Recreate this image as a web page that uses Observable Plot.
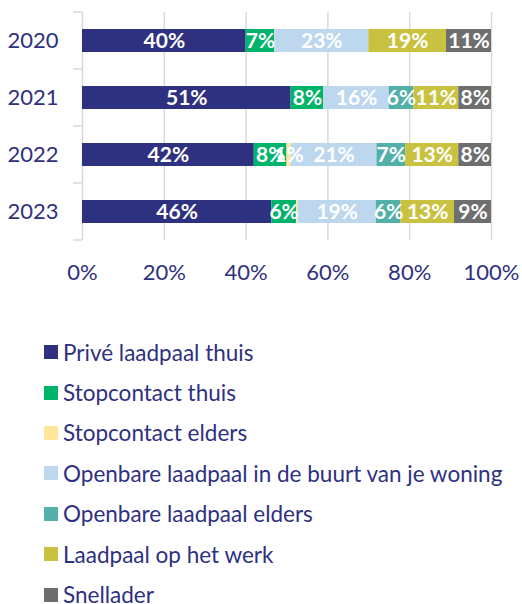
<!DOCTYPE html>
<html>
<head>
<meta charset="utf-8">
<script src="https://cdn.jsdelivr.net/npm/d3@7"></script>
<script src="https://cdn.jsdelivr.net/npm/@observablehq/plot@0.6"></script>
<style>
  html, body { margin: 0; padding: 0; background: #fff; }
  #chart svg { display: block; }
  .legend { margin: 32px 0 0 44px; font-family: Lato, "Open Sans", sans-serif; font-size: 22.5px; color: #2E3080; }
  .legend .row { height: 40.4px; display: flex; align-items: center; }
  .legend .sw { width: 14px; height: 14px; margin-right: 5px; flex: none; }
</style>
</head>
<body>
<div id="chart"></div>
<div class="legend" id="legend"></div>
<script>
const years = ["2020", "2021", "2022", "2023"];
const series = [
  "Privé laadpaal thuis",
  "Stopcontact thuis",
  "Stopcontact elders",
  "Openbare laadpaal in de buurt van je woning",
  "Openbare laadpaal elders",
  "Laadpaal op het werk",
  "Snellader"
];
const colors = ["#2E3080", "#00B36B", "#FFE699", "#BDD7EE", "#52B0A9", "#C9C241", "#6E6E6E"];
const priveThuis      = [40, 51, 42, 46];
const stopThuis       = [7, 8, 8, 6];
const stopElders      = [0, 0, 1, 0.4];
const openbaarBuurt   = [23, 16, 21, 19];
const openbaarElders  = [0, 6, 7, 6];
const werk            = [19, 11, 13, 13];
const snellader       = [11, 8, 8, 9];
const xTicks = [0, 0.2, 0.4, 0.6, 0.8, 1];

const seriesValues = [priveThuis, stopThuis, stopElders, openbaarBuurt, openbaarElders, werk, snellader];
const data = [];
series.forEach((s, si) => years.forEach((y, yi) => data.push({year: y, series: s, value: seriesValues[si][yi]})));

const navy = "#2E3080";
const font = "Lato, 'Open Sans', sans-serif";

const chart = Plot.plot({
  width: 522,
  height: 300,
  marginTop: 12,
  marginBottom: 60,
  marginLeft: 82,
  marginRight: 31,
  style: {fontFamily: font, color: navy, background: "#fff"},
  x: {domain: [0, 1], ticks: xTicks, tickFormat: d3.format(".0%")},
  y: {domain: years, paddingInner: 0.6, paddingOuter: 0.3},
  color: {domain: series, range: colors},
  marks: [
    Plot.gridX(xTicks.slice(1), {stroke: "#D9D9D9", strokeOpacity: 1, strokeWidth: 1.5}),
    Plot.ruleX([0], {stroke: "#D9D9D9", strokeWidth: 1.5}),
    Plot.barX(data, Plot.stackX({x: "value", y: "year", fill: "series", order: series, offset: "normalize"})),
    Plot.text(data, Plot.stackX({
      x: "value", y: "year", z: "series", order: series, offset: "normalize",
      text: d => d.value >= 1 ? `${d.value}%` : "",
      fill: "white", fontWeight: "bold", fontSize: 21
    })),
    Plot.axisY({tickSize: 0, tickPadding: 24, fontSize: 22, label: null, fill: navy}),
    Plot.axisX(xTicks, {tickSize: 0, tickPadding: 24, fontSize: 22, label: null, fill: navy, tickFormat: d3.format(".0%")})
  ]
});

// y-axis boundary ticks between categories
const yScale = chart.scale("y");
const svgSel = d3.select(chart);
const bandStep = yScale.step;
const yTop = Math.min(...yScale.range);
const tickG = svgSel.append("g").attr("stroke", "#D9D9D9").attr("stroke-width", 1.5);
for (let i = 0; i <= years.length; i++) {
  const yy = yTop + i * bandStep;
  tickG.append("line").attr("x1", 73).attr("x2", 82).attr("y1", yy).attr("y2", yy);
}
document.getElementById("chart").append(chart);

const legend = d3.select("#legend");
series.forEach((s, i) => {
  const row = legend.append("div").attr("class", "row");
  row.append("div").attr("class", "sw").style("background", colors[i]);
  row.append("span").text(s);
});
</script>
</body>
</html>
